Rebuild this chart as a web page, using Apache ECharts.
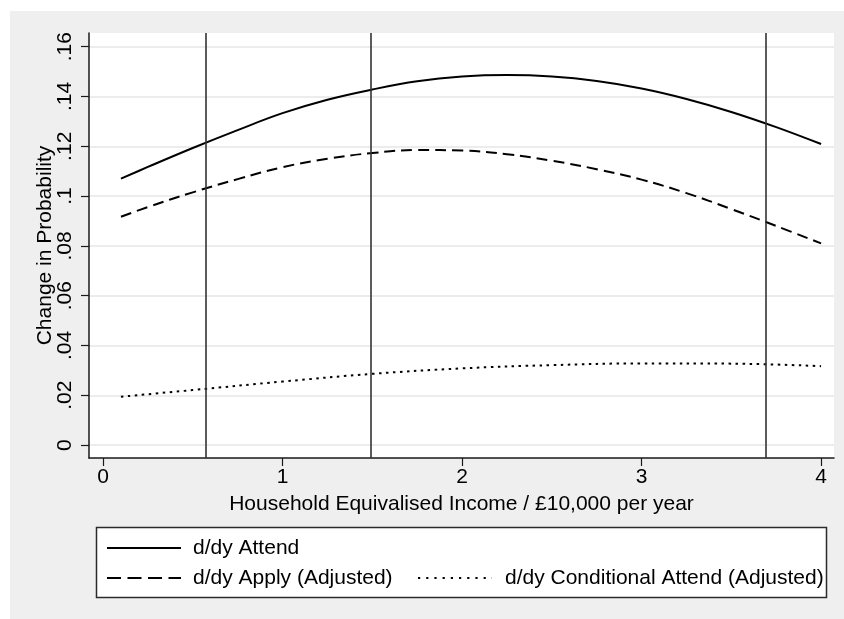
<!DOCTYPE html>
<html>
<head>
<meta charset="utf-8">
<script src="https://cdn.jsdelivr.net/npm/echarts@6/dist/echarts.min.js"></script>
<style>
  html, body { margin: 0; padding: 0; background: #ffffff; }
  #chart { width: 844px; height: 619px; }
</style>
</head>
<body>
<div id="chart"></div>
<script>
// Income grid (in £10,000 per year) at which the marginal effects are plotted
const incomeA = [0.10, 0.25, 0.50, 0.75, 1.00, 1.25, 1.50, 1.75, 2.00, 2.25, 2.50, 2.75, 3.00, 3.25, 3.50, 3.75, 4.00];
const attend = [0.1070, 0.1117, 0.1193, 0.1265, 0.1333, 0.1387, 0.1428, 0.1461, 0.1480, 0.1486, 0.1480, 0.1462, 0.1432, 0.1390, 0.1338, 0.1277, 0.1209];
const apply = [0.0917, 0.0956, 0.1015, 0.1068, 0.1116, 0.1150, 0.1173, 0.1185, 0.1183, 0.1168, 0.1142, 0.1108, 0.1066, 0.1012, 0.0948, 0.0880, 0.0810];

const incomeC = [0.10, 0.50, 1.00, 1.50, 2.00, 2.50, 3.00, 3.50, 4.00];
const condAttend = [0.0194, 0.0221, 0.0255, 0.0286, 0.0308, 0.0321, 0.0328, 0.0327, 0.0317];

// Reference income levels marked with vertical lines
const refLines = [0.57, 1.49, 3.69];

const xTicks = [0, 1, 2, 3, 4];
const yTicks = [0, 0.02, 0.04, 0.06, 0.08, 0.10, 0.12, 0.14, 0.16];

const seriesNames = ['d/dy Attend', 'd/dy Apply (Adjusted)', 'd/dy Conditional Attend (Adjusted)'];

const FONT = "'Liberation Sans', Arial, Helvetica, sans-serif";

function pairs(xs, ys) { return xs.map((x, i) => [x, ys[i]]); }
function stataNum(v) {
  if (Math.abs(v) < 1e-9) return '0';
  return String(+v.toFixed(2)).replace(/^0\./, '.');
}

const chart = echarts.init(document.getElementById('chart'), null, { renderer: 'canvas' });

const legendText = { fontFamily: FONT, fontSize: 21, color: '#000', lineHeight: 24, padding: [0, 0, 0, 7] };
const legendBase = {
  orient: 'horizontal', padding: 0, itemWidth: 74, itemHeight: 14,
  selectedMode: false, z: 5,
  itemStyle: { opacity: 0, borderWidth: 0 }
};

chart.setOption({
  backgroundColor: '#ffffff',
  animation: false,
  graphic: [
    { type: 'rect', z: -100, silent: true,
      shape: { x: 10, y: 11, width: 834, height: 608 },
      style: { fill: '#efefef' } },
    { type: 'rect', z: 1, silent: true,
      shape: { x: 96.5, y: 527.5, width: 730, height: 70 },
      style: { fill: '#ffffff', stroke: '#2b2b2b', lineWidth: 1.5 } }
  ],
  grid: {
    left: 89, right: 10, top: 33, bottom: 161,
    show: true, backgroundColor: '#ffffff', borderWidth: 0
  },
  xAxis: {
    type: 'value', min: -0.078, max: 4.072,
    name: 'Household Equivalised Income / £10,000 per year',
    nameLocation: 'middle', nameGap: 36, nameMoveOverlap: false,
    nameTextStyle: { fontFamily: FONT, fontSize: 21, color: '#000' },
    axisLine: { show: true, onZero: false, lineStyle: { color: '#1a1a1a', width: 1.5 } },
    axisTick: { show: true, length: 8, customValues: xTicks, lineStyle: { color: '#1a1a1a', width: 1.2 } },
    axisLabel: { customValues: xTicks, margin: 9, fontFamily: FONT, fontSize: 21, color: '#000',
      formatter: v => String(v) },
    splitLine: { show: false }
  },
  yAxis: {
    type: 'value', min: -0.0052, max: 0.1655,
    name: 'Change in Probability',
    nameLocation: 'middle', nameRotate: 90, nameGap: 33, nameMoveOverlap: false,
    nameTextStyle: { fontFamily: FONT, fontSize: 21, color: '#000' },
    axisLine: { show: true, onZero: false, lineStyle: { color: '#1a1a1a', width: 1.5 } },
    axisTick: { show: true, length: 8, customValues: yTicks, lineStyle: { color: '#1a1a1a', width: 1.2 } },
    axisLabel: { customValues: yTicks, rotate: 90, margin: 13, fontFamily: FONT, fontSize: 21, color: '#000',
      formatter: v => stataNum(v) },
    splitLine: { show: true, lineStyle: { color: '#e6e6e6', width: 1.5 } }
  },
  legend: [
    Object.assign({}, legendBase, { data: [seriesNames[0]], left: 106, top: 536, textStyle: legendText }),
    Object.assign({}, legendBase, { data: [seriesNames[1]], left: 106, top: 566, textStyle: legendText,
      lineStyle: { type: [14, 6.5] } }),
    Object.assign({}, legendBase, { data: [seriesNames[2]], left: 417, top: 566,
      lineStyle: { type: [2.2, 6] },
      textStyle: Object.assign({}, legendText, { padding: [0, 0, 0, 8] }) })
  ],
  series: [
    {
      name: seriesNames[0], type: 'line', data: pairs(incomeA, attend),
      smooth: 0.4, symbol: 'none', color: '#000',
      lineStyle: { color: '#000', width: 2, type: 'solid' },
      markLine: {
        silent: true, symbol: 'none', label: { show: false },
        lineStyle: { color: '#333', width: 1.6, type: 'solid' },
        data: refLines.map(v => ({ xAxis: v }))
      }
    },
    {
      name: seriesNames[1], type: 'line', data: pairs(incomeA, apply),
      smooth: 0.4, symbol: 'none', color: '#000',
      lineStyle: { color: '#000', width: 2, type: [11, 6] }
    },
    {
      name: seriesNames[2], type: 'line', data: pairs(incomeC, condAttend),
      smooth: 0.4, symbol: 'none', color: '#000',
      lineStyle: { color: '#000', width: 2, type: [2.5, 4.5] }
    }
  ]
});
</script>
</body>
</html>
